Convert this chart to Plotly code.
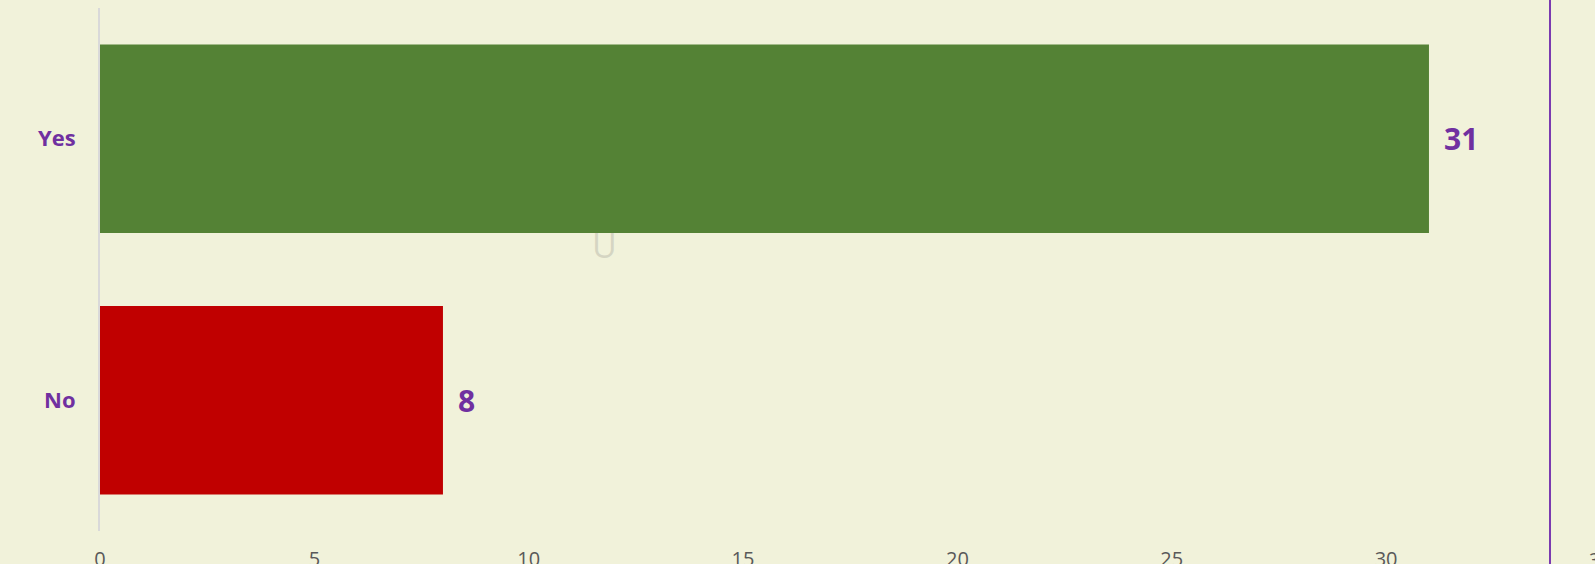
import plotly.graph_objects as go

categories = ["No", "Yes"]
values = [8, 31]
bar_colors = ["#C00000", "#548235"]
x_tick_vals = [0, 5, 10, 15, 20, 25, 30, 35]
x_tick_labels = ["0", "5", "10", "15", "20", "25", "30", "35"]

W, H = 1595, 564
ML, MR, MT, MB = 100, 0, 8, 33
px_per_unit = 42.87
x_max = (W - ML - MR) / px_per_unit

fig = go.Figure()
fig.add_trace(go.Bar(
    y=categories, x=values, orientation="h",
    marker=dict(color=bar_colors, line=dict(width=0)),
    hoverinfo="skip",
))

annotations = []
for c, v in zip(categories, values):
    annotations.append(dict(
        x=v, y=c, xref="x", yref="y", text=f"<b>{v}</b>", showarrow=False,
        xanchor="left", yanchor="middle", xshift=13,
        font=dict(family="Open Sans", size=30, color="#7030A0"),
    ))
# partially visible tick label beyond the plotted range (placed via axis fraction)
for tv, tl in zip(x_tick_vals, x_tick_labels):
    if tv > x_max:
        annotations.append(dict(
            x=tv / x_max, y=0, xref="paper", yref="paper", text=tl, showarrow=False,
            xanchor="center", yanchor="top", yshift=-13,
            font=dict(family="Open Sans", size=20, color="#595959"),
        ))
# faint blurred glyph
annotations.append(dict(
    x=(590 - ML) / (W - ML - MR), y=1 - (245 - MT) / (H - MT - MB), xref="paper", yref="paper",
    text="U", showarrow=False, font=dict(family="Open Sans", size=34, color="rgba(160,160,150,0.35)"),
))

fig.update_layout(
    width=W, height=H,
    margin=dict(l=ML, r=MR, t=MT, b=MB, pad=0),
    paper_bgcolor="#F1F2DA", plot_bgcolor="#F1F2DA",
    bargap=0.28, showlegend=False,
    annotations=annotations,
    shapes=[dict(type="line", xref="paper", yref="paper",
                 x0=(1550 - ML) / (W - ML - MR), x1=(1550 - ML) / (W - ML - MR),
                 y0=-0.2, y1=1.2, line=dict(color="#7A3AB0", width=2))],
    xaxis=dict(range=[0, x_max], tickvals=x_tick_vals, ticktext=x_tick_labels,
               showgrid=False, zeroline=False, showline=False, ticks="",
               ticklabelstandoff=14, automargin=False,
               tickfont=dict(family="Open Sans", size=20, color="#595959")),
    yaxis=dict(range=[-0.5, 1.5], showgrid=False, zeroline=False,
               showline=True, linecolor="#D9D9D9", linewidth=2, ticks="",
               ticklabelstandoff=18, automargin=False,
               tickfont=dict(family="Open Sans", size=22, color="#7030A0", weight="bold")),
)

fig.write_html(
    "out.html",
    config={"displayModeBar": False},
    post_script="document.body.style.margin='0';document.body.style.overflow='hidden';",
)
